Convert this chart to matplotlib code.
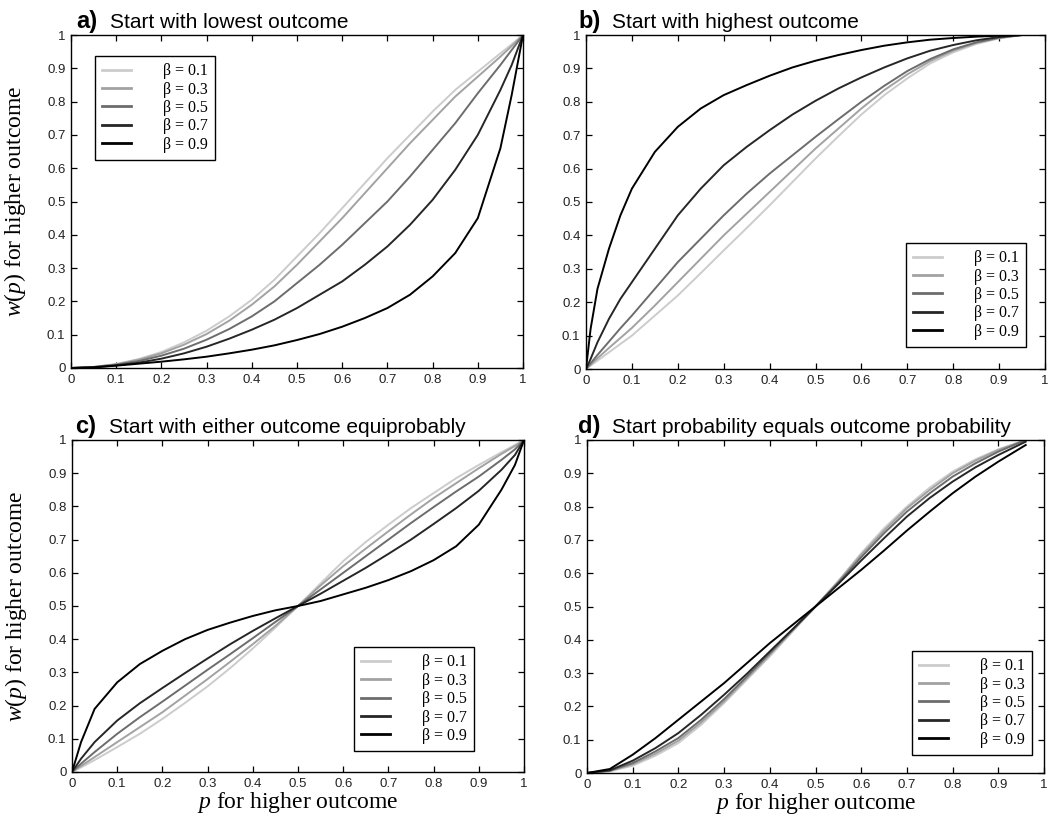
import matplotlib
matplotlib.use("Agg")
import matplotlib.pyplot as plt

plt.rcParams['mathtext.fontset'] = 'custom'
plt.rcParams['mathtext.rm'] = 'Liberation Serif'
plt.rcParams['mathtext.it'] = 'Liberation Serif:italic'

betas = ['0.1', '0.3', '0.5', '0.7', '0.9']
colors = ['#cccccc', '#a2a2a2', '#6c6c6c', '#262626', '#000000']

# a) start with lowest outcome
x_a = [0, 0.05, 0.1, 0.15, 0.2, 0.25, 0.3, 0.35, 0.4, 0.45, 0.5, 0.55, 0.6, 0.65, 0.7,
       0.75, 0.8, 0.85, 0.9, 0.95, 0.975, 1.0]
w_a = [
    [0, 0.003, 0.012, 0.027, 0.048, 0.077, 0.112, 0.155, 0.205, 0.265, 0.335, 0.405, 0.48,
     0.555, 0.63, 0.7, 0.77, 0.835, 0.89, 0.945, 0.972, 1.0],
    [0, 0.003, 0.011, 0.025, 0.044, 0.07, 0.102, 0.142, 0.19, 0.245, 0.31, 0.38, 0.45,
     0.525, 0.6, 0.675, 0.745, 0.815, 0.875, 0.935, 0.967, 1.0],
    [0, 0.003, 0.01, 0.021, 0.037, 0.058, 0.085, 0.117, 0.155, 0.2, 0.255, 0.31, 0.37,
     0.435, 0.50, 0.575, 0.655, 0.735, 0.825, 0.91, 0.955, 1.0],
    [0, 0.002, 0.008, 0.016, 0.028, 0.044, 0.064, 0.088, 0.115, 0.145, 0.18, 0.22, 0.26,
     0.31, 0.365, 0.43, 0.505, 0.595, 0.70, 0.835, 0.91, 1.0],
    [0, 0.002, 0.007, 0.013, 0.019, 0.026, 0.034, 0.044, 0.055, 0.068, 0.084, 0.102, 0.124,
     0.15, 0.18, 0.22, 0.275, 0.345, 0.45, 0.66, 0.82, 1.0],
]

# b) start with highest outcome
x_b = [0, 0.01, 0.025, 0.05, 0.075, 0.1, 0.15, 0.2, 0.25, 0.3, 0.35, 0.4, 0.45, 0.5,
       0.55, 0.6, 0.65, 0.7, 0.75, 0.8, 0.85, 0.9, 0.95]
w_b = [
    [0, 0.01, 0.025, 0.05, 0.075, 0.10, 0.16, 0.22, 0.287, 0.355, 0.422, 0.49, 0.56, 0.63,
     0.697, 0.762, 0.82, 0.87, 0.915, 0.948, 0.973, 0.99, 1.0],
    [0, 0.013, 0.032, 0.063, 0.093, 0.123, 0.19, 0.26, 0.33, 0.40, 0.465, 0.53, 0.595, 0.66,
     0.72, 0.78, 0.835, 0.882, 0.922, 0.953, 0.976, 0.991, 1.0],
    [0, 0.017, 0.042, 0.082, 0.122, 0.16, 0.24, 0.32, 0.39, 0.46, 0.525, 0.585, 0.64, 0.695,
     0.748, 0.80, 0.848, 0.892, 0.928, 0.957, 0.978, 0.992, 1.0],
    [0, 0.03, 0.08, 0.15, 0.21, 0.26, 0.36, 0.46, 0.54, 0.61, 0.665, 0.715, 0.762, 0.803,
     0.84, 0.873, 0.903, 0.93, 0.953, 0.97, 0.984, 0.994, 1.0],
    [0, 0.12, 0.24, 0.36, 0.46, 0.54, 0.65, 0.725, 0.78, 0.82, 0.85, 0.878, 0.903, 0.923,
     0.94, 0.955, 0.968, 0.978, 0.986, 0.991, 0.995, 0.998, 1.0],
]

# c) start with either outcome equiprobably
x_c = [0, 0.02, 0.05, 0.1, 0.15, 0.2, 0.25, 0.3, 0.35, 0.4, 0.45, 0.5, 0.55, 0.6, 0.65,
       0.7, 0.75, 0.8, 0.85, 0.9, 0.95, 0.98, 1.0]
w_c = [
    [0, 0.014, 0.036, 0.075, 0.115, 0.16, 0.208, 0.258, 0.313, 0.372, 0.435, 0.5, 0.568,
     0.635, 0.693, 0.745, 0.795, 0.84, 0.885, 0.925, 0.963, 0.985, 1.0],
    [0, 0.018, 0.045, 0.09, 0.135, 0.18, 0.23, 0.28, 0.332, 0.385, 0.44, 0.5, 0.562,
     0.62, 0.673, 0.725, 0.776, 0.825, 0.87, 0.915, 0.958, 0.982, 1.0],
    [0, 0.025, 0.06, 0.115, 0.165, 0.212, 0.26, 0.308, 0.355, 0.403, 0.452, 0.5, 0.55,
     0.6, 0.65, 0.70, 0.75, 0.798, 0.845, 0.89, 0.94, 0.972, 1.0],
    [0, 0.04, 0.09, 0.155, 0.207, 0.253, 0.298, 0.342, 0.385, 0.425, 0.463, 0.5, 0.537,
     0.576, 0.615, 0.657, 0.70, 0.747, 0.795, 0.847, 0.91, 0.955, 1.0],
    [0, 0.09, 0.19, 0.27, 0.325, 0.365, 0.40, 0.428, 0.45, 0.47, 0.487, 0.5, 0.515,
     0.535, 0.555, 0.578, 0.605, 0.638, 0.68, 0.745, 0.85, 0.925, 1.0],
]

# d) start probability equals outcome probability
x_d = [0, 0.05, 0.1, 0.15, 0.2, 0.25, 0.3, 0.35, 0.4, 0.45, 0.5, 0.55, 0.6, 0.65, 0.7,
       0.75, 0.8, 0.85, 0.9, 0.96]
w_d = [
    [0, 0.005, 0.022, 0.052, 0.09, 0.145, 0.21, 0.28, 0.35, 0.425, 0.5, 0.577, 0.66, 0.735,
     0.80, 0.857, 0.905, 0.942, 0.972, 1.0],
    [0, 0.006, 0.026, 0.058, 0.097, 0.152, 0.215, 0.285, 0.355, 0.428, 0.5, 0.575, 0.655,
     0.728, 0.795, 0.85, 0.9, 0.938, 0.97, 1.0],
    [0, 0.007, 0.03, 0.065, 0.105, 0.16, 0.222, 0.29, 0.36, 0.43, 0.5, 0.572, 0.648, 0.72,
     0.785, 0.84, 0.89, 0.93, 0.965, 1.0],
    [0, 0.008, 0.037, 0.075, 0.12, 0.175, 0.235, 0.298, 0.365, 0.432, 0.5, 0.568, 0.638,
     0.705, 0.77, 0.826, 0.875, 0.918, 0.955, 0.995],
    [0, 0.012, 0.055, 0.105, 0.16, 0.215, 0.27, 0.33, 0.39, 0.445, 0.5, 0.555, 0.61, 0.668,
     0.728, 0.785, 0.84, 0.89, 0.935, 0.985],
]

letters = ['a)', 'b)', 'c)', 'd)']
titles = ['Start with lowest outcome', 'Start with highest outcome',
          'Start with either outcome equiprobably',
          'Start probability equals outcome probability']
ticks = [0, 0.1, 0.2, 0.3, 0.4, 0.5, 0.6, 0.7, 0.8, 0.9, 1]
tick_labels = ['0', '0.1', '0.2', '0.3', '0.4', '0.5', '0.6', '0.7', '0.8', '0.9', '1']

W, H = 1052, 825
fig = plt.figure(figsize=(W / 100, H / 100), dpi=100)

# axes boxes in pixels: left, top, right, bottom
boxes = [(71, 35, 523, 368), (586, 35, 1045, 369), (72, 440, 524, 772), (587, 440, 1044, 773)]
legend_loc = ['upper left', 'lower right', 'lower right', 'lower right']
legend_anchor = [(0.053, 0.937), (0.959, 0.066), (0.889, 0.063), (0.974, 0.054)]
title_pos = [(76, 28), (578, 28), (75, 433), (578, 433)]

panels = [(x_a, w_a), (x_b, w_b), (x_c, w_c), (x_d, w_d)]

for i, (xs, ws) in enumerate(panels):
    l, t, r, b = boxes[i]
    ax = fig.add_axes([l / W, 1 - b / H, (r - l) / W, (b - t) / H])
    for k in range(5):
        ax.plot(xs, ws[k], color=colors[k], lw=1.4, label='β = ' + betas[k])
    ax.set_xlim(0, 1)
    ax.set_ylim(0, 1)
    ax.set_xticks(ticks)
    ax.set_yticks(ticks)
    ax.set_xticklabels(tick_labels, family='Liberation Sans', fontsize=9.5, color='#222222')
    ax.set_yticklabels(tick_labels, family='Liberation Sans', fontsize=9.5, color='#222222')
    ax.tick_params(direction='in', top=True, right=True, length=4.5, width=0.9, pad=4)
    for s in ax.spines.values():
        s.set_linewidth(1.0)
    leg = ax.legend(loc=legend_loc[i], bbox_to_anchor=legend_anchor[i], borderaxespad=0,
                    frameon=True, fancybox=False, framealpha=1, edgecolor='black',
                    prop={'family': 'Liberation Serif', 'size': 11.5},
                    handlelength=1.8, handletextpad=2.0, labelspacing=0.15,
                    borderpad=0.45)
    leg.get_frame().set_linewidth(1.0)
    for line in leg.get_lines():
        line.set_linewidth(2.0)

    if i % 2 == 0:
        ax.set_ylabel(r'$w(p)$ for higher outcome', family='Liberation Serif', fontsize=17)
        ax.yaxis.set_label_coords(-0.095, 0.5)
    if i >= 2:
        ax.set_xlabel(r'$p$ for higher outcome', family='Liberation Serif', fontsize=17)
        ax.xaxis.set_label_coords(0.5, -0.055)

    tx, ty = title_pos[i]
    fig.text(tx / W, 1 - ty / H, letters[i], family='Liberation Sans', fontweight='bold',
             fontsize=17, va='baseline', ha='left')
    fig.text((tx + 34) / W, 1 - ty / H, titles[i], family='Liberation Sans',
             fontsize=15, va='baseline', ha='left')

fig.savefig('out.png', dpi=100)
